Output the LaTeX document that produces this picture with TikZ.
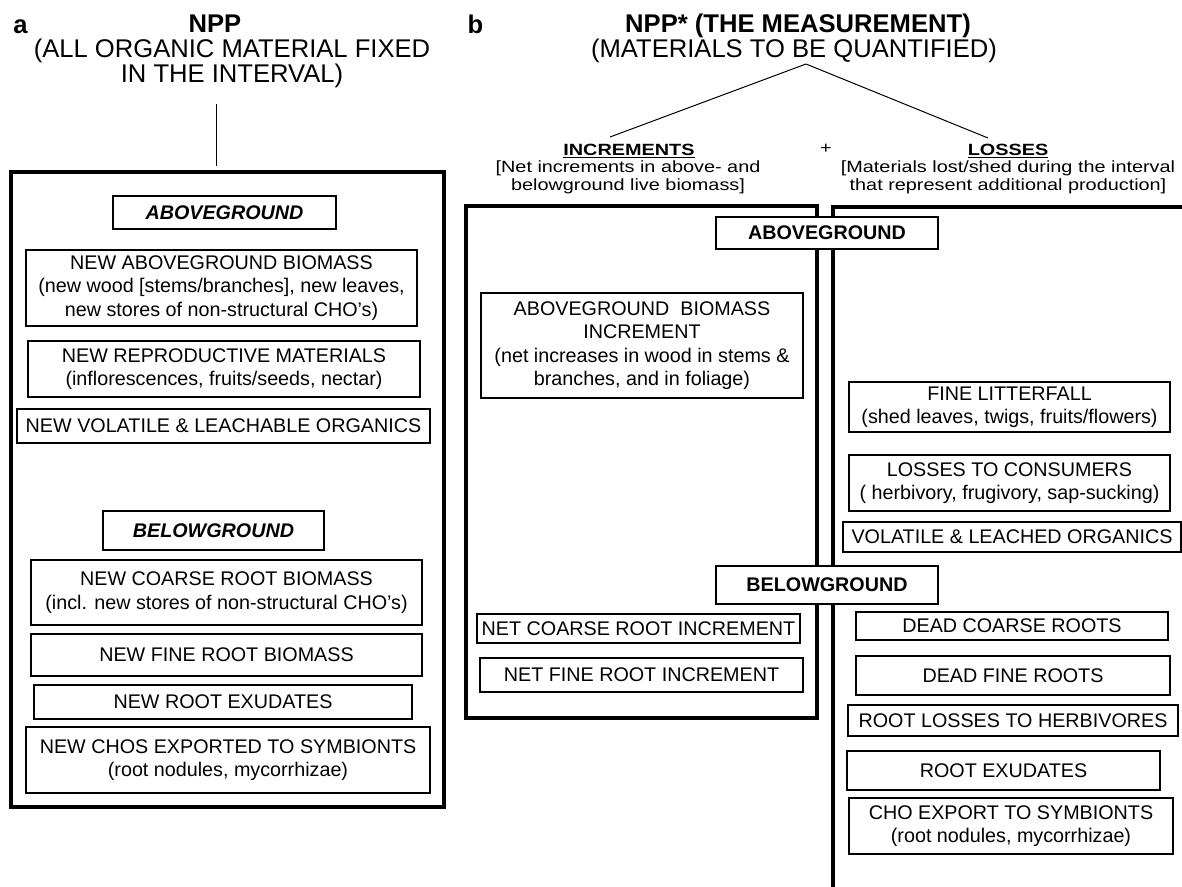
\documentclass[tikz,border=0pt]{standalone}
\usepackage{fontspec}
\setmainfont{Liberation Sans}
\newfontfamily\headfont[FakeStretch=1.22]{Liberation Sans}
\usetikzlibrary{positioning}

\tikzset{every picture/.style={line width=0.75pt}}
\tikzset{
  wh/.style 2 args={minimum width={#1*0.75pt}, minimum height={#2*0.75pt}},
  box/.style={draw, line width=0.8pt, fill=white, align=center, inner sep=1pt,
    font=\fontsize{14.8}{17.5}\selectfont},
  groundbox/.style={box, font=\fontsize{14.8}{17.5}\selectfont\bfseries},
  frame/.style={draw, line width=2.4pt, inner sep=0pt},
  title/.style={align=center, inner sep=0pt, font=\fontsize{19.2}{18.75}\selectfont},
  head/.style={align=center, inner sep=0pt, font=\headfont\fontsize{12.2}{13.5}\selectfont},
}

\begin{document}
\begin{tikzpicture}[x=0.75pt,y=0.75pt,yscale=-1,xscale=1]
\useasboundingbox (0,0) rectangle (1182,886);

%%% panel a
% Text Node
\node (labA) [title, anchor=base west] at (13,33) {\bfseries a};
% Text Node
\node (nppA) [title, anchor=base] at (215,32) {\bfseries NPP};
% Text Node (base = last line)
\node (defA) [title, anchor=base] at (232,82) {(ALL ORGANIC MATERIAL FIXED\\IN THE INTERVAL)};
%Shape: Rectangle
\node (frameA) [frame, wh={433}{635}] at (227.5,489.5) {};
%Straight Lines
\coordinate (stemA) at (216,104);
\draw [shorten >=3pt] (stemA) -- (stemA |- frameA.north);

% Text Node
\node (aboveA) [groundbox, wh={223}{33}] at (224.5,212.5) {\itshape ABOVEGROUND};
\node (newAbove) [box, wh={391}{76}] at (221.5,288) {NEW ABOVEGROUND BIOMASS\\ (new wood [stems/branches], new leaves,\\new stores of non-structural CHO's)};
\node (newRepro) [box, wh={392}{56}] at (224,369) {NEW REPRODUCTIVE MATERIALS\\(inflorescences, fruits/seeds, nectar)};
\node (newVolat) [box, wh={413}{34}] at (223.5,426) {NEW VOLATILE \& LEACHABLE ORGANICS};
% Text Node
\node (belowA) [groundbox, wh={221}{39}] at (213.5,530.5) {\itshape BELOWGROUND};
\node (newCoarse) [box, wh={391}{65}] at (226.5,592.5) {NEW COARSE ROOT BIOMASS\\(incl. new stores of non-structural CHO's)};
\node (newFine) [box, wh={391}{42}] at (226.5,655) {NEW FINE ROOT BIOMASS};
\node (newExud) [box, wh={378}{34}] at (223,702) {NEW ROOT EXUDATES};
\node (newCho) [box, wh={404}{66}] at (228,760) {NEW CHOS EXPORTED TO SYMBIONTS\\(root nodules, mycorrhizae)};

%%% panel b
% Text Node
\node (labB) [title, anchor=base west] at (467,33) {\bfseries b};
% Text Node
\node (nppB) [title, anchor=base] at (798,32) {\bfseries NPP* (THE MEASUREMENT)};
% Text Node
\node (defB) [title, anchor=base] at (794,57) {(MATERIALS TO BE QUANTIFIED)};
% Text Node
\node (incHead) [head, anchor=base] at (629,155) {\bfseries\underline{INCREMENTS}};
\node (incText) [head, anchor=base] at (628,190) {[Net increments in above- and\\belowground live biomass]};
\node (plus) [head] at (826,149) {+};
\node (lossHead) [head, anchor=base] at (1008,155) {\bfseries\underline{LOSSES}};
\node (lossText) [head, anchor=base] at (1008,190) {[Materials lost/shed during the interval\\that represent additional production]};
%Straight Lines
\coordinate (apex) at (806,64);
\coordinate (incTop) at (610,137);
\coordinate (lossTop) at (988,138);
\draw (apex) -- (incTop);
\draw (apex) -- (lossTop);

%Shape: Rectangle
\node (frameInc) [frame, wh={351}{512}] at (641.5,462) {};
%Shape: Bracket
\coordinate (lossEnd) at (1190,207);
\coordinate (lossCorner) at (833,207);
\coordinate (lossFoot) at (833,892);
\draw [line width=2.4pt] (lossEnd) -- (lossCorner) -- (lossFoot);

% Text Node
\node (aboveB) [groundbox, wh={222}{32}] at (827,233) {ABOVEGROUND};
\node (agbInc) [box, wh={322}{105}] at (642,345.5) {ABOVEGROUND\ \ BIOMASS\\INCREMENT\\(net increases in wood in stems \&\\branches, and in foliage)};
\node (litter) [box, wh={321}{50}] at (1009.5,407) {FINE LITTERFALL\\(shed leaves, twigs, fruits/flowers)};
\node (consum) [box, wh={321}{56}] at (1009.5,483) {LOSSES TO CONSUMERS\\( herbivory, frugivory, sap-sucking)};
\node (volat) [box, wh={338}{30}] at (1012,537) {VOLATILE \& LEACHED ORGANICS};
% Text Node
\node (belowB) [groundbox, wh={222}{38}] at (827,585) {BELOWGROUND};
\node (netCoarse) [box, wh={323}{29}] at (638.5,628.5) {NET COARSE ROOT INCREMENT};
\node (netFine) [box, wh={323}{34}] at (641.5,675) {NET FINE ROOT INCREMENT};
\node (deadCoarse) [box, wh={312}{28}] at (1012,626) {DEAD COARSE ROOTS};
\node (deadFine) [box, wh={314}{39}] at (1013,675.5) {DEAD FINE ROOTS};
\node (rootHerb) [box, wh={330}{31}] at (1013,720.5) {ROOT LOSSES TO HERBIVORES};
\node (rootExud) [box, wh={313}{39}] at (1003.5,770.5) {ROOT EXUDATES};
\node (choExp) [box, wh={324}{56}] at (1011,826) {CHO EXPORT TO SYMBIONTS\\(root nodules, mycorrhizae)};

\end{tikzpicture}
\end{document}
